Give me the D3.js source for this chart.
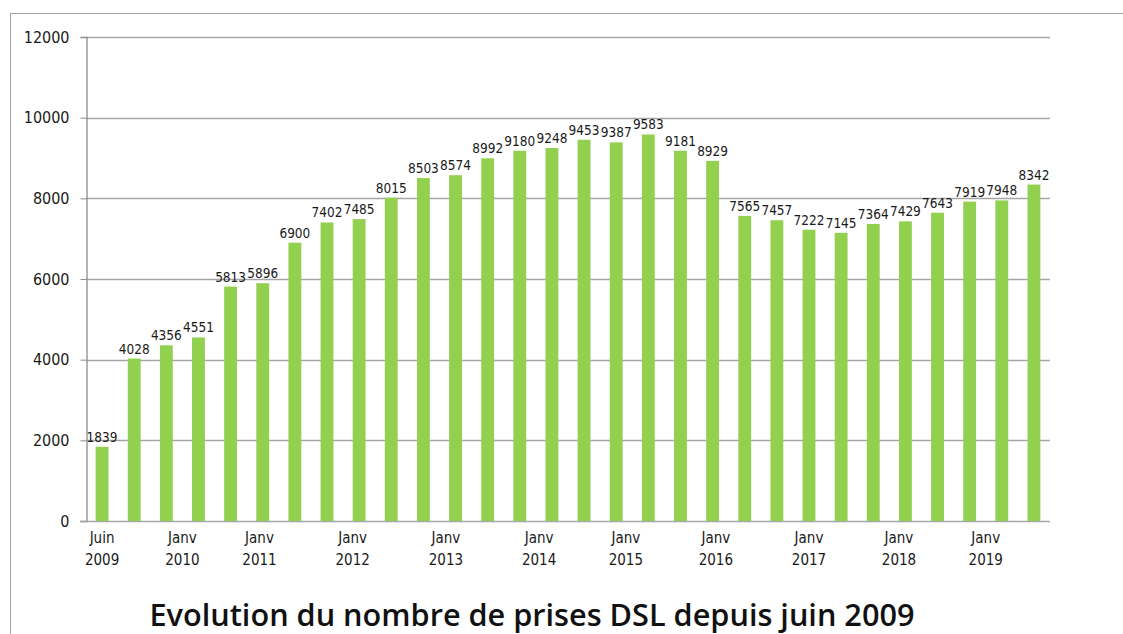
<!DOCTYPE html>
<html>
<head>
<meta charset="utf-8">
<script src="https://cdn.jsdelivr.net/npm/d3@7"></script>
<style>
  body { margin: 0; background: #fff; }
  svg { display: block; }
</style>
</head>
<body>
<div id="chart"></div>
<script>
// valeurs (une barre tous les ~4 mois, de juin 2009 à 2019)
var valeurs = [1839, 4028, 4356, 4551, 5813, 5896, 6900, 7402, 7485, 8015,
               8503, 8574, 8992, 9180, 9248, 9453, 9387, 9583, 9181, 8929,
               7565, 7457, 7222, 7145, 7364, 7429, 7643, 7919, 7948, 8342];

// étiquettes de l'axe x : position exprimée en rang de barre
var etiquettesRang = [0, 2.5, 4.9, 7.8, 10.7, 13.6, 16.3, 19.1, 22.0, 24.8, 27.5];
var etiquettesMois = ["Juin", "Janv", "Janv", "Janv", "Janv", "Janv", "Janv", "Janv", "Janv", "Janv", "Janv"];
var etiquettesAnnee = ["2009", "2010", "2011", "2012", "2013", "2014", "2015", "2016", "2017", "2018", "2019"];

var yTicks = [0, 2000, 4000, 6000, 8000, 10000, 12000];
var titre = "Evolution du nombre de prises DSL depuis juin 2009";

var width = 1123,
    height = 634,
    plot = {left: 86, right: 1050, top: 37, bottom: 521};

var police = "'DejaVu Sans Condensed', 'DejaVu Sans', sans-serif";

var svg = d3.select("#chart").append("svg")
  .attr("width", width)
  .attr("height", height);

// cadre extérieur
svg.append("rect")
  .attr("x", 10.5)
  .attr("y", 13.5)
  .attr("width", width)
  .attr("height", height)
  .style("fill", "none")
  .style("stroke", "#a0a0a0");

var x = d3.scaleBand()
  .domain(d3.range(valeurs.length))
  .range([plot.left, plot.right])
  .paddingInner(0.6)
  .paddingOuter(0.3);

var y = d3.scaleLinear()
  .domain([0, 12000])
  .range([plot.bottom, plot.top]);

// rang de barre -> centre en pixels
var rang = d3.scaleLinear()
  .domain([0, valeurs.length - 1])
  .range([x(0) + x.bandwidth() / 2, x(valeurs.length - 1) + x.bandwidth() / 2]);

// grille horizontale
svg.append("g")
  .selectAll("line")
  .data(yTicks.slice(1))
  .enter()
  .append("line")
  .attr("x1", plot.left)
  .attr("x2", plot.right)
  .attr("y1", function(d) { return Math.round(y(d)) + 0.5; })
  .attr("y2", function(d) { return Math.round(y(d)) + 0.5; })
  .style("stroke", "#a6a6a6")
  .style("stroke-width", 1.3);

// axe y
var axeY = svg.append("g")
  .attr("transform", "translate(" + (plot.left + 0.5) + ",0)")
  .call(d3.axisLeft(y).tickValues(yTicks).tickSize(6).tickPadding(11).tickFormat(d3.format("d")));
axeY.select(".domain").style("stroke", "#8c8c8c").style("stroke-width", 1.3);
axeY.selectAll(".tick line").style("stroke", "#8c8c8c");
axeY.selectAll("text")
  .style("font-family", police)
  .style("font-size", "16px")
  .style("fill", "#1a1a1a");

// ligne de base
svg.append("line")
  .attr("x1", plot.left - 6)
  .attr("x2", plot.right)
  .attr("y1", Math.round(y(0)) + 0.5)
  .attr("y2", Math.round(y(0)) + 0.5)
  .style("stroke", "#a6a6a6")
  .style("stroke-width", 1.5);

// barres
svg.append("g")
  .selectAll("rect")
  .data(valeurs)
  .enter()
  .append("rect")
  .attr("x", function(d, i) { return x(i); })
  .attr("y", function(d) { return y(d); })
  .attr("width", x.bandwidth())
  .attr("height", function(d) { return y(0) - y(d); })
  .style("fill", "#92d050");

// valeurs au-dessus des barres
svg.append("g")
  .selectAll("text")
  .data(valeurs)
  .enter()
  .append("text")
  .attr("x", function(d, i) { return x(i) + x.bandwidth() / 2; })
  .attr("y", function(d) { return y(d) - 5; })
  .style("text-anchor", "middle")
  .style("font-family", police)
  .style("font-size", "13.5px")
  .style("fill", "#1a1a1a")
  .text(function(d) { return d; });

// étiquettes de l'axe x (deux lignes)
var lab = svg.append("g")
  .selectAll("text")
  .data(etiquettesRang)
  .enter()
  .append("text")
  .attr("x", function(d) { return rang(d); })
  .attr("y", 543)
  .style("text-anchor", "middle")
  .style("font-family", police)
  .style("font-size", "15px")
  .style("fill", "#1a1a1a");

lab.append("tspan")
  .attr("x", function(d) { return rang(d); })
  .text(function(d, i) { return etiquettesMois[i]; });

lab.append("tspan")
  .attr("x", function(d) { return rang(d); })
  .attr("dy", 22)
  .text(function(d, i) { return etiquettesAnnee[i]; });

// titre
svg.append("text")
  .attr("x", 532)
  .attr("y", 626)
  .attr("textLength", 765)
  .attr("lengthAdjust", "spacingAndGlyphs")
  .style("text-anchor", "middle")
  .style("font-family", "'Open Sans', 'Noto Sans', sans-serif")
  .style("font-size", "31px")
  .style("font-weight", 600)
  .style("fill", "#111")
  .text(titre);
</script>
</body>
</html>
